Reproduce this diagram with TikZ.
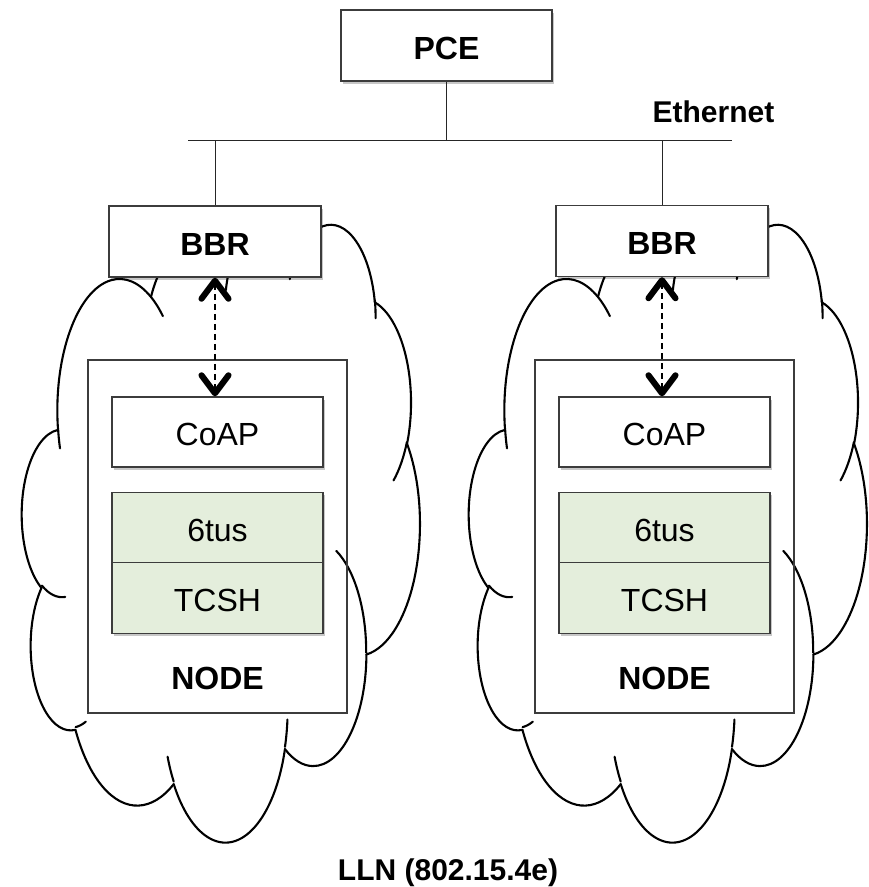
\documentclass[tikz,border=0pt]{standalone}
\usepackage{fontspec}
\setmainfont{Liberation Sans}
\usetikzlibrary{arrows.meta,shadows}
\definecolor{layergreen}{RGB}{228,238,220}
\definecolor{boxedge}{RGB}{60,60,60}

% cloud geometry (Office cloud shape, units of 1/100 of the 43200 path box)
\newcommand\cldsx{0.9208}
\newcommand\cldsy{1.43}
\newcommand\cldmove[2]{%
  \pgfmathsetmacro\cldtmpx{\cldox+(#1)*\cldsx}%
  \pgfmathsetmacro\cldtmpy{\cldoy+(#2)*\cldsy}%
  \global\let\cldcx\cldtmpx\global\let\cldcy\cldtmpy}
\newcommand\cldarc[4]{%
  \pgfmathsetmacro\cldta{atan2((#1)*sin(#3),(#2)*cos(#3))}%
  \pgfmathsetmacro\cldtb{atan2((#1)*sin((#3)+(#4)),(#2)*cos((#3)+(#4)))}%
  \pgfmathsetmacro\cldd{\cldtb-(\cldta)}%
  \pgfmathsetmacro\cldd{\cldd+((#4)>0)*(\cldd<0)*360-((#4)<0)*(\cldd>0)*360}%
  \pgfmathsetmacro\cldrx{(#1)*\cldsx}%
  \pgfmathsetmacro\cldry{(#2)*\cldsy}%
  \pgfmathsetmacro\cldsa{0-(\cldta)}%
  \pgfmathsetmacro\cldda{0-(\cldd)}%
  \draw[cloudline] (\cldcx,\cldcy) arc[start angle=\cldsa, delta angle=\cldda, x radius=\cldrx pt, y radius=\cldry pt];
  \pgfmathsetmacro\cldnx{\cldcx-\cldrx*cos(\cldta)+\cldrx*cos(\cldta+\cldd)}%
  \pgfmathsetmacro\cldny{\cldcy-\cldry*sin(\cldta)+\cldry*sin(\cldta+\cldd)}%
  \global\let\cldcx\cldnx\global\let\cldcy\cldny}
\newcommand\drawcloud[2]{%
  \gdef\cldox{#1}\gdef\cldoy{#2}%
  \cldmove{39.00}{143.70}%
  \cldarc{67.53}{91.90}{-190.48748}{123.78053}%
  \cldarc{53.33}{72.67}{-144.10238}{89.94523}%
  \cldarc{43.65}{59.45}{-145.80792}{99.72302}%
  \cldarc{48.57}{65.95}{-130.98607}{117.24173}%
  \cldarc{53.33}{72.73}{-78.70888}{109.02692}%
  \cldarc{67.75}{92.20}{-46.26725}{130.26900}%
  \cldarc{57.85}{78.67}{0.62502}{114.03333}%
  \cldarc{67.52}{92.15}{22.45160}{115.17255}%
  \cldarc{77.20}{105.43}{66.24263}{75.71102}%
  \cldarc{43.60}{59.18}{-274.94208}{146.73557}%
  \cldarc{43.45}{59.45}{-246.82850}{152.51885}%
  \cldmove{46.93}{261.77}\cldarc{43.45}{59.45}{86.74200}{26.42950}%
  \cldmove{69.28}{348.99}\cldarc{43.60}{59.18}{73.61047}{11.44747}%
  \cldmove{164.78}{390.90}\cldarc{67.52}{92.15}{137.62415}{14.08110}%
  \cldmove{288.27}{347.51}\cldarc{67.52}{92.15}{6.45327}{15.99835}%
  \cldmove{341.29}{229.54}\cldarc{57.85}{78.67}{-70.29235}{70.91737}%
  \cldmove{417.98}{153.54}\cldarc{53.33}{72.73}{30.31803}{27.75150}%
  \cldmove{383.24}{54.26}\cldarc{48.57}{65.95}{-13.74433}{14.85890}%
  \cldmove{290.78}{39.52}\cldarc{48.57}{65.95}{-149.18145}{18.19537}%
  \cldmove{221.41}{47.20}\cldarc{43.65}{59.45}{-163.49427}{17.68635}%
  \cldmove{140.00}{51.92}\cldarc{67.53}{91.90}{-66.70695}{12.31935}%
  \cldmove{41.27}{157.89}\cldarc{67.53}{91.90}{158.56948}{11.86040}%
}

\begin{document}
\begin{tikzpicture}[x=1pt,y=-1pt,
  cloudline/.style={line width=2.1pt, line cap=round, line join=round, black},
  boxshadow/.style={drop shadow={shadow xshift=1.5pt, shadow yshift=-2.5pt, opacity=0.22, fill=black}},
  box/.style={draw=boxedge, line width=1.3pt, fill=white, inner sep=0pt,
    minimum width=211pt, minimum height=71pt, text height=27pt, text depth=0pt,
    font=\fontsize{32}{38}\selectfont},
  boldbox/.style={box, font=\fontsize{32}{38}\selectfont\bfseries},
  layer/.style={box, fill=layergreen, minimum height=70.5pt},
  frame/.style={draw=boxedge, line width=1.1pt, inner sep=0pt, minimum width=259pt, minimum height=353pt},
  bus/.style={line width=1pt, black!85},
  lbl/.style={inner sep=0pt, text depth=0pt},
  chev/.tip={Straight Barb[length=18pt,width=27pt,line width=0pt 3.4,round]},
  link/.style={line width=1.8pt, dash pattern=on 6pt off 4pt, chev-chev}
]
\useasboundingbox (0,0) rectangle (869,887);

% clouds
\drawcloud{22}{222.6}
\drawcloud{469}{222.6}

% node frames
\node[frame] (nodeL) at (217.5,536.5) {};
\node[frame] (nodeR) at (664.5,536.5) {};

% ethernet bus
\coordinate (ethL) at (188,140.7);
\coordinate (ethR) at (732,140.7);
\draw[bus] (ethL) -- (ethR);

% boxes
\node[boldbox, boxshadow] (pce) at (446.5,45.5) {PCE};
\node[boldbox, boxshadow, minimum width=212pt] (bbrL) at (215,241.5) {BBR};
\node[boldbox, boxshadow, minimum width=212pt] (bbrR) at (662,241) {BBR};

\draw[bus] (pce.south) -- (pce.south |- ethL);
\draw[bus] (bbrL.north) -- (bbrL.north |- ethL);
\draw[bus] (bbrR.north) -- (bbrR.north |- ethL);

\node[box, boxshadow, minimum height=70pt] (coapL) at (217.5,432) {CoAP};
\node[box, boxshadow, minimum height=70pt] (coapR) at (664.5,432) {CoAP};
\node[layer, boxshadow] (tusL) at (217.5,527.5) {6tus};
\node[layer, boxshadow] (tcshL) at (217.5,598) {TCSH};
\node[layer, boxshadow] (tusR) at (664.5,527.5) {6tus};
\node[layer, boxshadow] (tcshR) at (664.5,598) {TCSH};

% labels
\node[lbl, text height=22.9pt, font=\fontsize{32}{38}\selectfont\bfseries] (nodetxtL) at (217.5,678.3) {NODE};
\node[lbl, text height=22.9pt, font=\fontsize{32}{38}\selectfont\bfseries] (nodetxtR) at (664.5,678.3) {NODE};
\node[lbl, text height=21.5pt, font=\fontsize{30}{36}\selectfont\bfseries] (ethtxt) at (713.5,111.3) {Ethernet};
\node[lbl, text height=21.5pt, font=\fontsize{30}{36}\selectfont\bfseries] (lln) at (448,870) {LLN (802.15.4e)};

% dashed links
\draw[link] (bbrL.south) -- (bbrL.south |- coapL.north);
\draw[link] (bbrR.south) -- (bbrR.south |- coapR.north);
\end{tikzpicture}
\end{document}
